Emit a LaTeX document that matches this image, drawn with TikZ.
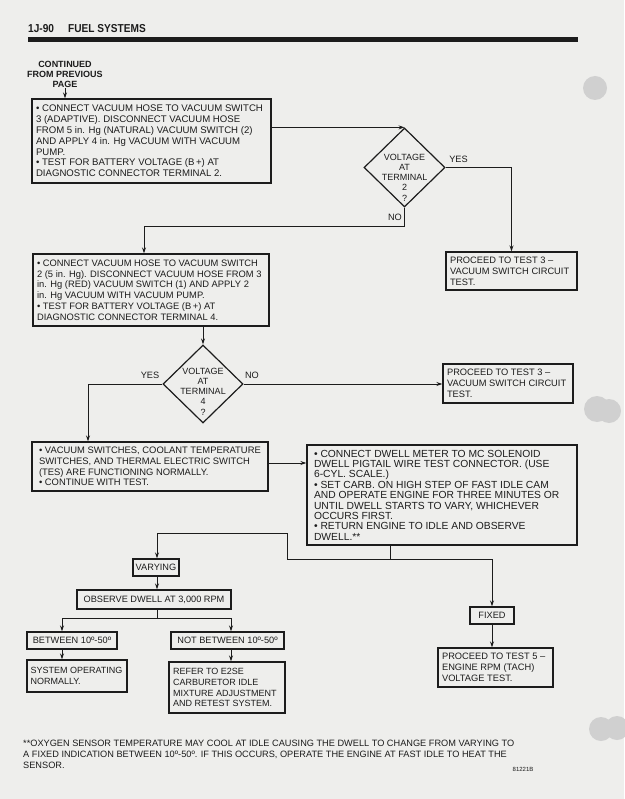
\documentclass[tikz,border=0pt]{standalone}
\usepackage{fontspec}
\setmainfont{Liberation Sans}
\newfontfamily\condfont[FakeStretch=0.88]{Liberation Sans}
\usetikzlibrary{shapes.geometric,arrows.meta,calc}
\definecolor{paper}{RGB}{238,238,236}
\definecolor{ink}{RGB}{28,28,28}
\definecolor{punch}{RGB}{208,208,208}
\tikzset{
  frame/.style={draw=ink, line width=1.3pt, inner sep=0pt},
  txt/.style={inner sep=0pt, align=left, text=ink, font=\fontsize{9.3}{10.8}\selectfont},
  lbox/.style={frame, text=ink, align=center, font=\fontsize{9.2}{10.6}\selectfont},
  dia/.style={draw=ink, line width=1.2pt, shape=diamond, inner sep=0pt},
  diatxt/.style={inner sep=0pt, align=center, text=ink, font=\fontsize{9}{10.3}\selectfont},
  lab/.style={inner sep=0pt, text=ink, font=\fontsize{9.2}{10}\selectfont},
  conn/.style={draw=ink, line width=1pt},
  arr/.style={conn, -{Stealth[length=6pt,width=4pt]}}
}
\newcommand\flowbox[7][]{%
  \node[frame, minimum width=#5, minimum height=#6] (#2) at (#3,#4) {};
  \node[txt, anchor=west, #1] (#2t) at ([xshift=4.5pt]#2.west) {#7};}
\begin{document}
\begin{tikzpicture}[x=1pt,y=-1pt]
\useasboundingbox (0,0) rectangle (624,799);
\fill[paper] (0,0) rectangle (624,799);
% hole punches
\fill[punch] (595,88) circle (12);
\fill[punch] (597,409) circle (13);
\fill[punch] (609,411) circle (12);
\fill[punch] (601,729) circle (12);
\fill[punch] (617,728) circle (12);
% header
\node[anchor=base west, inner sep=0pt, text=ink, font=\condfont\bfseries\fontsize{11.5}{12}\selectfont] (hdrA) at (28,33) {1J-90};
\node[anchor=base west, inner sep=0pt, text=ink, font=\condfont\bfseries\fontsize{11.5}{12}\selectfont] (hdrB) at (68,33) {FUEL SYSTEMS};
\fill[ink] (28,37.5) rectangle (578,42.5);
\node[inner sep=0pt, align=center, text=ink, font=\bfseries\fontsize{9}{10.4}\selectfont] (cont) at (65,74.5) {CONTINUED\\FROM PREVIOUS\\PAGE};
% boxes
\flowbox[font=\fontsize{9.6}{10.8}\selectfont]{b1}{151.5}{141}{239}{84}{• CONNECT VACUUM HOSE TO VACUUM SWITCH\\3 (ADAPTIVE). DISCONNECT VACUUM HOSE\\FROM 5 in. Hg (NATURAL) VACUUM SWITCH (2)\\AND APPLY 4 in. Hg VACUUM WITH VACUUM\\PUMP.\\• TEST FOR BATTERY VOLTAGE (B\,+) AT\\DIAGNOSTIC CONNECTOR TERMINAL 2.}
\flowbox{p1}{511.5}{271}{131}{38}{PROCEED TO TEST 3 –\\VACUUM SWITCH CIRCUIT\\TEST.}
\flowbox[font=\fontsize{9.35}{10.8}\selectfont]{b2}{151}{290}{236}{72}{• CONNECT VACUUM HOSE TO VACUUM SWITCH\\2 (5 in. Hg). DISCONNECT VACUUM HOSE FROM 3\\in. Hg (RED) VACUUM SWITCH (1) AND APPLY 2\\in. Hg VACUUM WITH VACUUM PUMP.\\• TEST FOR BATTERY VOLTAGE (B\,+) AT\\DIAGNOSTIC CONNECTOR TERMINAL 4.}
\flowbox{p2}{508}{383.5}{130}{39}{PROCEED TO TEST 3 –\\VACUUM SWITCH CIRCUIT\\TEST.}
\flowbox[xshift=3pt, font=\fontsize{9.4}{10.6}\selectfont]{b3}{150}{466.5}{236}{49}{• VACUUM SWITCHES, COOLANT TEMPERATURE\\SWITCHES, AND THERMAL ELECTRIC SWITCH\\(TES) ARE FUNCTIONING NORMALLY.\\• CONTINUE WITH TEST.}
\flowbox[xshift=3pt, font=\fontsize{10.3}{10.4}\selectfont]{b4}{442}{495}{270}{100}{• CONNECT DWELL METER TO MC SOLENOID\\DWELL PIGTAIL WIRE TEST CONNECTOR. (USE\\6-CYL. SCALE.)\\• SET CARB. ON HIGH STEP OF FAST IDLE CAM\\AND OPERATE ENGINE FOR THREE MINUTES OR\\UNTIL DWELL STARTS TO VARY, WHICHEVER\\OCCURS FIRST.\\• RETURN ENGINE TO IDLE AND OBSERVE\\DWELL.**}
\node[lbox, minimum width=46, minimum height=17] (varying) at (156,567.5) {VARYING};
\node[lbox, minimum width=154, minimum height=19] (observe) at (154,599.5) {OBSERVE DWELL AT 3,000 RPM};
\node[lbox, minimum width=90, minimum height=17] (between) at (72,640.5) {BETWEEN 10º-50º};
\node[lbox, minimum width=113, minimum height=17] (notbetween) at (227.5,640.5) {NOT BETWEEN 10º-50º};
\flowbox[xshift=-0.5pt, font=\fontsize{9}{10.8}\selectfont]{system}{77}{676}{100}{32}{SYSTEM OPERATING\\NORMALLY.}
\flowbox[font=\fontsize{9}{10.8}\selectfont]{refer}{227}{687.5}{116}{51}{REFER TO E2SE\\CARBURETOR IDLE\\MIXTURE ADJUSTMENT\\AND RETEST SYSTEM.}
\node[lbox, minimum width=44, minimum height=17] (fixed) at (492,615.5) {FIXED};
\flowbox{p3}{495.5}{667.5}{115}{39}{PROCEED TO TEST 5 –\\ENGINE RPM (TACH)\\VOLTAGE TEST.}
% diamonds
\node[dia, minimum width=81, minimum height=79] (d1) at (404.5,167.5) {};
\node[diatxt] (d1t) at (404.5,177.5) {VOLTAGE\\AT\\TERMINAL\\2\\?};
\node[dia, minimum width=80, minimum height=78] (d2) at (203,384) {};
\node[diatxt] (d2t) at (203,391.5) {VOLTAGE\\AT\\TERMINAL\\4\\?};
% labels
\node[lab] (yes1) at (458.5,159) {YES};
\node[lab] (no1) at (395,217) {NO};
\node[lab] (yes2) at (150,375.5) {YES};
\node[lab] (no2) at (252,375.5) {NO};
% connectors
\draw[arr] (cont.south) -- (cont.south |- b1.north);
\draw[arr] (b1.east |- d1.north) -- (d1.north);
\draw[arr] (d1.east) -| (p1.north);
\coordinate (n1) at (144,227);
\draw[arr] (d1.south) |- (n1) -- (n1 |- b2.north);
\draw[arr] (b2.south -| d2.north) -- (d2.north);
\coordinate (n2) at (88,0);
\draw[arr] (d2.west) -| (n2 |- b3.north);
\draw[arr] (d2.east) -- (d2.east -| p2.west);
\coordinate (n3) at (0,463);
\draw[arr] (n3 -| b3.east) -- (n3 -| b4.west);
\coordinate (j1) at (390,559);
\coordinate (k1) at (287,559);
\coordinate (k2) at (287,533);
\coordinate (k3) at (157,533);
\draw[conn] (b4.south -| j1) -- (j1);
\draw[arr] (j1) -- (k1) -- (k2) -- (k3) -- (k3 |- varying.north);
\draw[arr] (j1) -| (fixed.north);
\draw[arr] (fixed.south) -- (fixed.south |- p3.north);
\draw[arr] (k3 |- varying.south) -- (k3 |- observe.north);
\coordinate (s1) at (157,618);
\coordinate (s2) at (62,618);
\coordinate (s3) at (231,618);
\draw[conn] (k3 |- observe.south) -- (s1);
\draw[arr] (s1) -- (s2) -- (s2 |- between.north);
\draw[arr] (s1) -- (s3) -- (s3 |- notbetween.north);
\draw[arr] (s2 |- between.south) -- (s2 |- system.north);
\draw[arr] (s3 |- notbetween.south) -- (s3 |- refer.north);
% footnote
\node[anchor=north west, inner sep=0pt, align=left, text=ink, font=\fontsize{9.2}{11.2}\selectfont] (foot) at (23,739.5) {**OXYGEN SENSOR TEMPERATURE MAY COOL AT IDLE CAUSING THE DWELL TO CHANGE FROM VARYING TO\\A FIXED INDICATION BETWEEN 10º-50º. IF THIS OCCURS, OPERATE THE ENGINE AT FAST IDLE TO HEAT THE\\SENSOR.};
\node[inner sep=0pt, text=ink, font=\fontsize{6}{7}\selectfont] (code) at (523,769) {81221B};
\end{tikzpicture}
\end{document}
